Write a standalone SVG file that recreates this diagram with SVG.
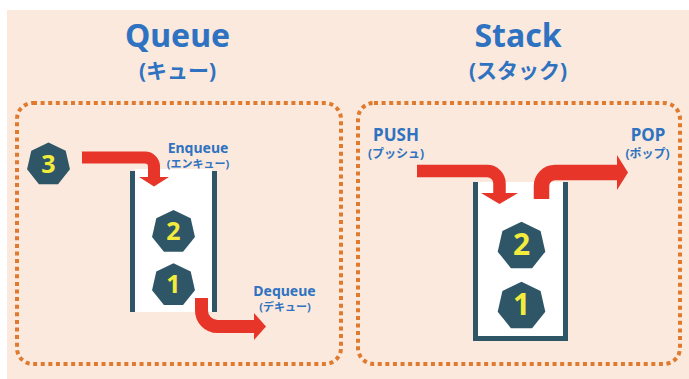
<svg xmlns="http://www.w3.org/2000/svg" xmlns:xlink="http://www.w3.org/1999/xlink" width="689" height="379" viewBox="0 0 689 379">
<style>
  text { font-family: "Noto Sans", "Noto Sans CJK JP", sans-serif; font-weight: 700; text-anchor: middle; }
  .title { fill: #2E72C1; font-size: 32px; }
  .sub { fill: #2E72C1; font-size: 21px; }
  .lbl { fill: #2E72C1; font-size: 14px; }
  .lblj { fill: #2E72C1; font-size: 11px; }
  .lbl2 { fill: #2E72C1; font-size: 17px; }
  .lblj2 { fill: #2E72C1; font-size: 12px; }
  .frame { fill: none; stroke: #E07A2F; stroke-width: 4; stroke-dasharray: 4 3.6; }
  .wall { fill: #2F5667; }
  .tube { fill: #FFFFFF; }
  .arrow { fill: none; stroke: #E8352A; stroke-linecap: butt; stroke-linejoin: round; }
  .head { fill: #E8352A; }
  .hept { fill: #2F5667; }
  .num { fill: #F3EC3C; }
</style>
<defs>
  <polygon id="hept" points="0,-22 17.2,-13.72 21.45,4.9 9.55,19.82 -9.55,19.82 -21.45,4.9 -17.2,-13.72"/>
</defs>
<rect x="0" y="0" width="689" height="379" fill="#FFFFFF"/>
<rect x="7" y="10" width="682" height="369" fill="#FAE9DC"/>

<g id="queue-title">
  <text class="title" x="177.5" y="47">Queue</text>
  <text class="sub" x="177.5" y="78">(キュー)</text>
</g>
<g id="stack-title">
  <text class="title" x="518" y="47">Stack</text>
  <text class="sub" x="518" y="78">(スタック)</text>
</g>

<rect id="queue-frame" class="frame" x="17" y="103" width="324" height="261" rx="16"/>
<rect id="stack-frame" class="frame" x="358" y="103" width="322" height="261" rx="16"/>

<g id="queue-tube">
  <rect class="tube" x="135" y="169" width="77" height="143"/>
  <rect class="wall" x="130" y="171" width="5" height="141"/>
  <rect class="wall" x="212" y="171" width="5" height="141"/>
</g>
<g id="stack-tube">
  <rect class="tube" x="478" y="182" width="85" height="154"/>
  <path d="M475.5 182 V338.5 H565.5 V182" fill="none" stroke="#2F5667" stroke-width="5"/>
</g>

<g id="connectors">
  <g id="enqueue-arrow">
    <path class="arrow" stroke-width="12" d="M82 157.5 H145 A9 9 0 0 1 154 166.5 V177.5"/>
    <polygon class="head" points="139,177 169,177 154,186.5"/>
  </g>
  <g id="dequeue-arrow">
    <path class="arrow" stroke-width="13" d="M201.5 298 V310 A16 16 0 0 0 217.5 326.5 H254"/>
    <polygon class="head" points="254,313 254,340 266,326.5"/>
  </g>
  <g id="push-arrow">
    <path class="arrow" stroke-width="12.5" d="M417 171 H487 A12.5 12.5 0 0 1 499.5 183.5 V193.5"/>
    <polygon class="head" points="481,193 518,193 499.5,204"/>
  </g>
  <g id="pop-arrow">
    <path class="arrow" stroke-width="15.5" d="M541.5 199 V186 A13.5 13.5 0 0 1 555 172.5 H617"/>
    <polygon class="head" points="617,155 617,190 628,172.5"/>
  </g>
</g>

<g id="queue-labels">
  <text class="lbl" x="198" y="152.5">Enqueue</text>
  <text class="lblj" x="198" y="168">(エンキュー)</text>
  <text class="lbl" x="284.5" y="295.5">Dequeue</text>
  <text class="lblj" x="285" y="311">(デキュー)</text>
</g>
<g id="stack-labels">
  <text class="lbl2" x="396" y="141">PUSH</text>
  <text class="lblj2" x="396" y="158">(プッシュ)</text>
  <text class="lbl2" x="648" y="141">POP</text>
  <text class="lblj2" x="647.5" y="158">(ポップ)</text>
</g>

<g id="node-q3">
  <use xlink:href="#hept" class="hept" transform="translate(48.5 164.4)"/>
  <text class="num" x="48.5" y="172.5" font-size="25">3</text>
</g>
<g id="node-q2">
  <use xlink:href="#hept" class="hept" transform="translate(173.5 232)"/>
  <text class="num" x="173.5" y="239.5" font-size="25">2</text>
</g>
<g id="node-q1">
  <use xlink:href="#hept" class="hept" transform="translate(173.5 285.3)"/>
  <text class="num" x="173.5" y="293" font-size="25">1</text>
</g>
<g id="node-s2">
  <use xlink:href="#hept" class="hept" transform="translate(521.5 246.2) scale(1.11)"/>
  <text class="num" x="521.5" y="255" font-size="30">2</text>
</g>
<g id="node-s1">
  <use xlink:href="#hept" class="hept" transform="translate(521.5 306.2) scale(1.11)"/>
  <text class="num" x="521.5" y="315" font-size="30">1</text>
</g>
</svg>
